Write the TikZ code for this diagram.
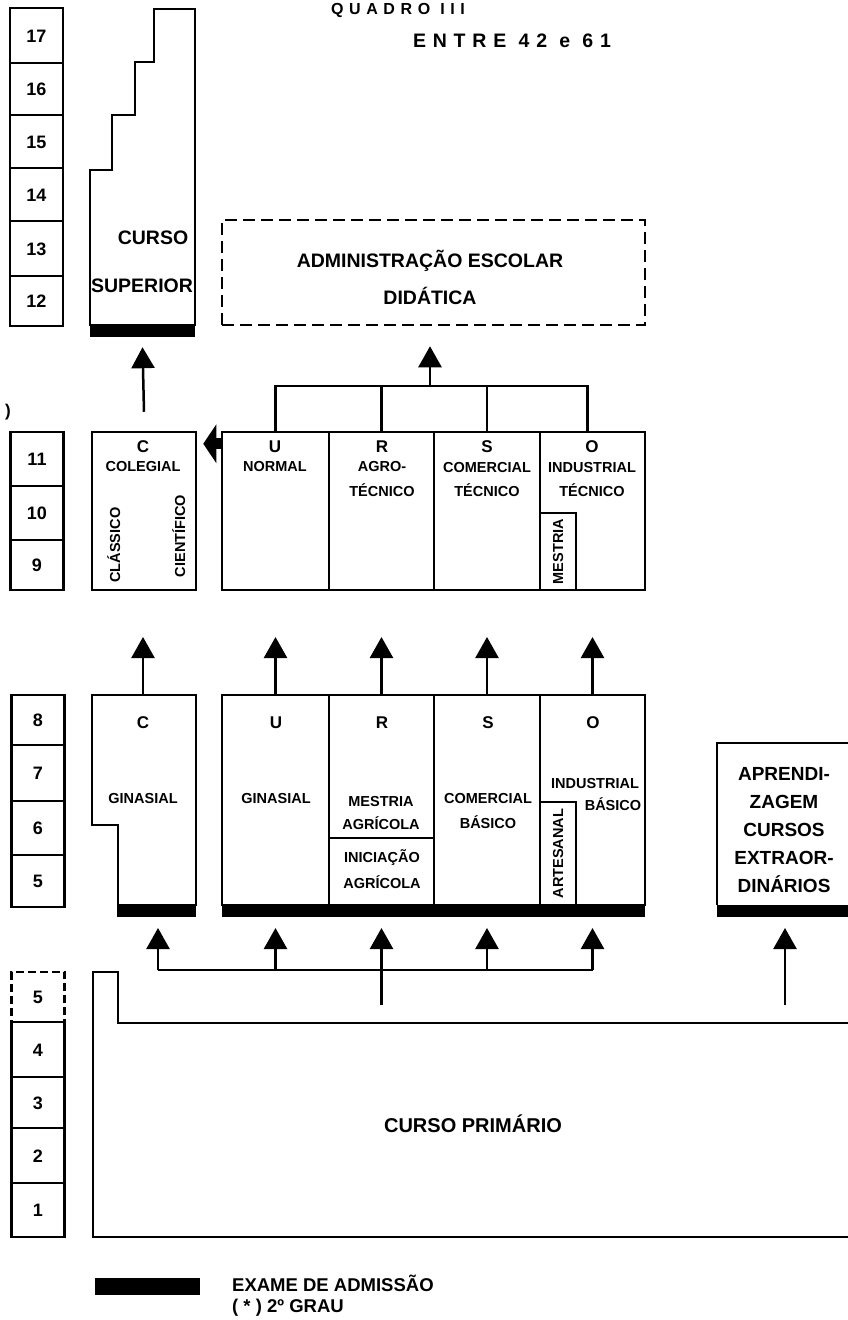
\documentclass[tikz,border=0pt]{standalone}
\usepackage{fontspec}
\setmainfont{Liberation Sans}
\usetikzlibrary{arrows.meta}

\tikzset{
  ln/.style={line width=2.5pt},
  box/.style={draw, line width=2.5pt, inner sep=0pt},
  yr/.style={draw, line width=2.5pt, minimum width=53pt, inner sep=0pt, text height=13pt, text depth=0pt, font=\bfseries\fontsize{18}{18}\selectfont},
  lbl/.style={inner sep=0pt, text height=10pt, text depth=0pt, font=\bfseries\fontsize{14.5}{14.5}\selectfont},
  ltr/.style={inner sep=0pt, text height=12pt, text depth=0pt, font=\bfseries\fontsize{17}{17}\selectfont},
  big/.style={inner sep=0pt, text height=14pt, text depth=0pt, font=\bfseries\fontsize{19.5}{19.5}\selectfont},
  bar/.style={fill=black, inner sep=0pt, minimum height=12pt},
  arr/.style={line width=2.5pt, -{Triangle[width=23pt,length=21pt]}},
}

\begin{document}
\begin{tikzpicture}[x=1pt,y=-1pt]
\useasboundingbox (0,0) rectangle (848,1320);

% titulo
\node[big, font=\bfseries\fontsize{16}{16}\selectfont, text height=12pt] (quad) at (398,8) {\addfontfeatures{LetterSpace=35}QUADRO III};
\node[big] (ent) at (512,40) {\addfontfeatures{LetterSpace=35}ENTRE 42 e 61};

% anos
\node[yr, minimum height=55pt] (a17) at (36.5,35.5) {17};
\node[yr, minimum height=52pt] (a16) at (36.5,89) {16};
\node[yr, minimum height=53pt] (a15) at (36.5,141.5) {15};
\node[yr, minimum height=53pt] (a14) at (36.5,194.5) {14};
\node[yr, minimum height=55pt] (a13) at (36.5,248.5) {13};
\node[yr, minimum height=50pt] (a12) at (36.5,301) {12};
\node[ltr] (paren) at (8,410) {)};
\node[yr, minimum height=54pt] (a11) at (37,459) {11};
\node[yr, minimum height=54pt] (a10) at (37,513) {10};
\node[yr, minimum height=50pt] (a9) at (37,565) {9};
\node[yr, minimum height=50pt] (a8) at (38,720) {8};
\node[yr, minimum height=56pt] (a7) at (38,773) {7};
\node[yr, minimum height=54pt] (a6) at (38,828) {6};
\node[yr, minimum height=52pt] (a5) at (38,881) {5};
\node[yr, minimum height=50pt, dash pattern=on 8pt off 4pt] (b5) at (38,997) {5};
\node[yr, minimum height=55pt] (b4) at (38,1049.5) {4};
\node[yr, minimum height=51pt] (b3) at (38,1102.5) {3};
\node[yr, minimum height=55pt] (b2) at (38,1155.5) {2};
\node[yr, minimum height=54pt] (b1) at (38,1210) {1};

% curso superior
\draw[ln] (90,325) -- (90,170) -- (112,170) -- (112,115) -- (135,115) -- (135,62)
  -- (154,62) -- (154,9) -- (195,9) -- (195,325) -- cycle;
\node[bar, minimum width=105pt] (supbar) at (142.5,331) {};
\node[big] (curso) at (153,237) {CURSO};
\node[big] (superior) at (142,285) {SUPERIOR};

% administracao
\node[box, dash pattern=on 12pt off 6pt, minimum width=423pt, minimum height=105pt] (adm) at (433.5,272.5) {};
\node[big] (adm1) at (430,260) {ADMINISTRAÇÃO ESCOLAR};
\node[big] (adm2) at (430,297) {DIDÁTICA};

% colegial e tecnico
\node[box, minimum width=104pt, minimum height=158pt] (col) at (144,511) {};
\node[ltr] (colC) at (143,446) {C};
\node[lbl] (colN) at (143,466) {COLEGIAL};
\node[lbl, rotate=90] (clas) at (115,545) {CLÁSSICO};
\node[lbl, rotate=90] (cien) at (180,536) {CIENTÍFICO};

\node[box, minimum width=107pt, minimum height=158pt] (tecU) at (275.5,511) {};
\node[box, minimum width=105pt, minimum height=158pt] (tecR) at (381.5,511) {};
\node[box, minimum width=106pt, minimum height=158pt] (tecS) at (487,511) {};
\node[box, minimum width=105pt, minimum height=158pt] (tecO) at (592.5,511) {};
\node[box, lbl, rotate=90, minimum width=77pt, minimum height=36pt] (mestO) at (558,551.5) {MESTRIA};

\node[ltr] (tU) at (275,446) {U};
\node[lbl] (tU1) at (275,466) {NORMAL};
\node[ltr] (tR) at (382,446) {R};
\node[lbl] (tR1) at (382,466) {AGRO-};
\node[lbl] (tR2) at (382,491) {TÉCNICO};
\node[ltr] (tS) at (487,446) {S};
\node[lbl] (tS1) at (487,467) {COMERCIAL};
\node[lbl] (tS2) at (487,491) {TÉCNICO};
\node[ltr] (tO) at (592,446) {O};
\node[lbl] (tO1) at (592,467) {INDUSTRIAL};
\node[lbl] (tO2) at (592,491) {TÉCNICO};

% ginasial
\draw[ln] (92,695) -- (196,695) -- (196,905) -- (118,905) -- (118,825) -- (92,825) -- cycle;
\coordinate (ginCtop) at (143,695);
\node[bar, minimum width=79pt] (ginCbar) at (156.5,911) {};
\node[ltr] (gC) at (143,722) {C};
\node[lbl] (gC1) at (143,798) {GINASIAL};

\node[box, minimum width=107pt, minimum height=210pt] (ginU) at (275.5,800) {};
\node[box, minimum width=105pt, minimum height=210pt] (ginR) at (381.5,800) {};
\node[box, minimum width=106pt, minimum height=210pt] (ginS) at (487,800) {};
\node[box, minimum width=105pt, minimum height=210pt] (ginO) at (592.5,800) {};
\node[box, lbl, rotate=90, minimum width=103pt, minimum height=36pt] (artO) at (558,853.5) {ARTESANAL};
\coordinate (sepR) at (0,838);
\draw[ln] (ginR.west |- sepR) -- (ginR.east |- sepR);
\node[bar, minimum width=423pt] (ginbar) at (433.5,911) {};

\node[ltr] (gU) at (276,722) {U};
\node[lbl] (gU1) at (276,798) {GINASIAL};
\node[ltr] (gR) at (382,722) {R};
\node[lbl] (gR1) at (381,801) {MESTRIA};
\node[lbl] (gR2) at (381,824) {AGRÍCOLA};
\node[lbl] (gR3) at (382,857) {INICIAÇÃO};
\node[lbl] (gR4) at (382,883) {AGRÍCOLA};
\node[ltr] (gS) at (488,722) {S};
\node[lbl] (gS1) at (488,798) {COMERCIAL};
\node[lbl] (gS2) at (488,823) {BÁSICO};
\node[ltr] (gO) at (593,722) {O};
\node[lbl] (gO1) at (595,783) {INDUSTRIAL};
\node[lbl] (gO2) at (613,805) {BÁSICO};

% aprendizagem
\draw[ln] (852,743) -- (717,743) -- (717,905);
\node[bar, minimum width=135pt] (apbar) at (784.5,911) {};
\node[big, font=\bfseries\fontsize{19}{19}\selectfont] (ap1) at (784,773) {APRENDI-};
\node[big, font=\bfseries\fontsize{19}{19}\selectfont] (ap2) at (784,801) {ZAGEM};
\node[big, font=\bfseries\fontsize{19}{19}\selectfont] (ap3) at (784,829) {CURSOS};
\node[big, font=\bfseries\fontsize{19}{19}\selectfont] (ap4) at (784,857) {EXTRAOR-};
\node[big, font=\bfseries\fontsize{19}{19}\selectfont] (ap5) at (784,885) {DINÁRIOS};

% primario
\draw[ln] (852,1023) -- (118,1023) -- (118,972) -- (93,972) -- (93,1237) -- (852,1237);
\node[big, font=\bfseries\fontsize{20}{20}\selectfont] (prim) at (473,1125) {CURSO PRIMÁRIO};

% setas
\coordinate (tree) at (0,386);
\coordinate (admup) at (430,386);
\draw[ln] (tecU.north) -- (tecU.north |- tree) -- ([xshift=-5pt]tecO.north |- tree) -- ([xshift=-5pt]tecO.north);
\draw[ln] (tecR.north) -- (tecR.north |- tree);
\draw[ln] (tecS.north) -- (tecS.north |- tree);
\draw[arr] (admup) -- ([yshift=-20pt]adm.south -| admup);
\draw[arr] ([yshift=19pt]col.north) -- ([yshift=-10pt]supbar.south);
\draw[line width=11pt, -{Triangle[width=38pt,length=13pt]}] ([yshift=-13pt]tecU.north west) -- ([xshift=6pt,yshift=-13pt]col.north east);

\coordinate (up2) at (0,637);
\draw[arr] (ginCtop) -- (ginCtop |- up2);
\draw[arr] (ginU.north) -- (ginU.north |- up2);
\draw[arr] (ginR.north) -- (ginR.north |- up2);
\draw[arr] (ginS.north) -- (ginS.north |- up2);
\draw[arr] (ginO.north) -- (ginO.north |- up2);

\coordinate (low) at (0,970);
\coordinate (top4) at (0,928);
\coordinate (cA) at (158,970);
\coordinate (stem) at (381.5,1005);
\coordinate (apstem) at (785,1005);
\draw[ln] (cA) -- (ginO |- low);
\draw[arr] (cA) -- (cA |- top4);
\draw[arr] (ginU |- low) -- (ginU |- top4);
\draw[arr] (stem) -- (stem |- top4);
\draw[arr] (ginS |- low) -- (ginS |- top4);
\draw[arr] (ginO |- low) -- (ginO |- top4);
\draw[arr] (apstem) -- (apstem |- top4);

% legenda
\node[bar, minimum width=105pt, minimum height=17pt] (legbar) at (147.5,1286.5) {};
\node[lbl, anchor=west, text height=13pt, font=\bfseries\fontsize{18.5}{18.5}\selectfont] (leg1) at (232,1285) {EXAME DE ADMISSÃO};
\node[lbl, anchor=west, text height=13pt, font=\bfseries\fontsize{18.5}{18.5}\selectfont] (leg2) at (232,1306) {( * ) 2º GRAU};
\end{tikzpicture}
\end{document}
